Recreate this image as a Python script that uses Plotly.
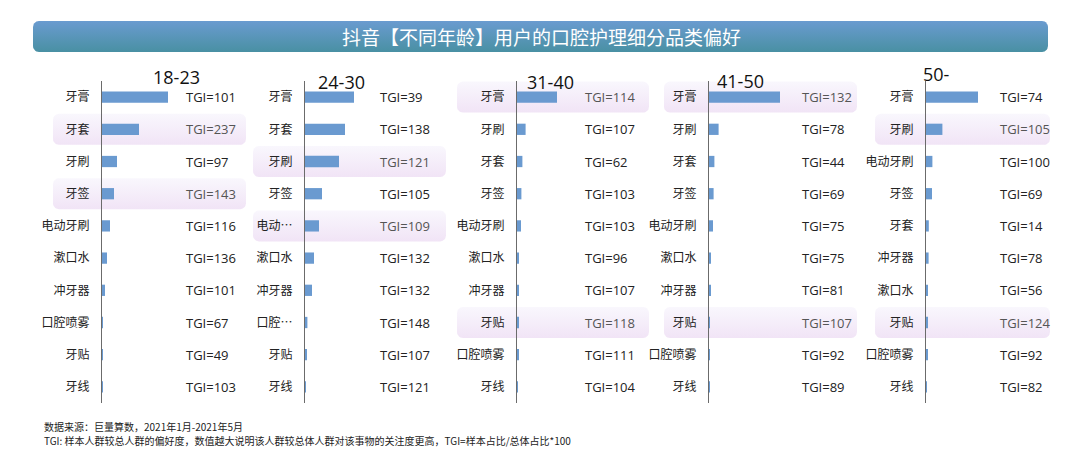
import numpy as np
import plotly.graph_objects as go

W, H = 1080, 471

title = "抖音【不同年龄】用户的口腔护理细分品类偏好"
age_groups = ["18-23", "24-30", "31-40", "41-50", "50-"]

cats_18_23 = ["牙膏", "牙套", "牙刷", "牙签", "电动牙刷", "漱口水", "冲牙器", "口腔喷雾", "牙贴", "牙线"]
share_18_23 = [33, 18.5, 7.5, 6, 4, 2.5, 1.5, 0.2, 0.15, 0.1]
tgi_18_23 = [101, 237, 97, 143, 116, 136, 101, 67, 49, 103]
hl_18_23 = [1, 3]

cats_24_30 = ["牙膏", "牙套", "牙刷", "牙签", "电动牙刷", "漱口水", "冲牙器", "口腔喷雾", "牙贴", "牙线"]
labels_24_30 = ["牙膏", "牙套", "牙刷", "牙签", "电动…", "漱口水", "冲牙器", "口腔…", "牙贴", "牙线"]
share_24_30 = [24.5, 20, 17, 8.5, 7, 4.5, 3.5, 1.2, 0.8, 0.5]
tgi_24_30 = [39, 138, 121, 105, 109, 132, 132, 148, 107, 121]
hl_24_30 = [2, 4]

cats_31_40 = ["牙膏", "牙刷", "牙套", "牙签", "电动牙刷", "漱口水", "冲牙器", "牙贴", "口腔喷雾", "牙线"]
share_31_40 = [20, 4.3, 2.7, 2.2, 2, 0.9, 0.9, 0.7, 0.6, 0.5]
tgi_31_40 = [114, 107, 62, 103, 103, 96, 107, 118, 111, 104]
hl_31_40 = [0, 7]

cats_41_50 = ["牙膏", "牙刷", "牙套", "牙签", "电动牙刷", "漱口水", "冲牙器", "牙贴", "口腔喷雾", "牙线"]
share_41_50 = [35.5, 4.8, 2.7, 2.3, 2, 0.7, 0.7, 0.15, 0.1, 0.05]
tgi_41_50 = [132, 78, 44, 69, 75, 75, 81, 107, 92, 89]
hl_41_50 = [0, 7]

cats_50 = ["牙膏", "牙刷", "电动牙刷", "牙签", "牙套", "冲牙器", "漱口水", "牙贴", "口腔喷雾", "牙线"]
share_50 = [26, 8.2, 3.2, 3, 1.4, 1.3, 1, 0.7, 0.6, 0.2]
tgi_50 = [74, 105, 100, 69, 14, 78, 56, 124, 92, 82]
hl_50 = [1, 7]

source_note = "数据来源：巨量算数，2021年1月-2021年5月"
tgi_note = "TGI: 样本人群较总人群的偏好度，数值越大说明该人群较总体人群对该事物的关注度更高，TGI=样本占比/总体占比*100"

panels = [
    (cats_18_23, cats_18_23, share_18_23, tgi_18_23, hl_18_23),
    (cats_24_30, labels_24_30, share_24_30, tgi_24_30, hl_24_30),
    (cats_31_40, cats_31_40, share_31_40, tgi_31_40, hl_31_40),
    (cats_41_50, cats_41_50, share_41_50, tgi_41_50, hl_41_50),
    (cats_50, cats_50, share_50, tgi_50, hl_50),
]

# layout in pixels
axis_px = [102, 305, 517, 709, 926]
tgi_px = [184, 378, 583, 800, 998]
hl_px = [(53, 246), (253, 446), (457, 649), (664, 857), (875, 1050)]
head_px = [(176, 77), (341, 82), (550, 82), (740, 81), (936, 74)]
top_px, pitch = 81, 32.2
bot_px = top_px + pitch * 10

FONT = "Noto Sans CJK SC"
BAR = "#6A9AD0"


def rounded_rect(x0, y0, x1, y1, r, n=8):
    xs, ys = [], []
    corners = [(x1 - r, y0 + r, -90), (x1 - r, y1 - r, 0), (x0 + r, y1 - r, 90), (x0 + r, y0 + r, 180)]
    for cx, cy, a in corners:
        t = np.radians(np.linspace(a, a + 90, n))
        xs += list(cx + r * np.cos(t))
        ys += list(cy + r * np.sin(t))
    return xs + xs[:1], ys + ys[:1]


fig = go.Figure()


def add_box(x0, y0, x1, y1, r, top, bottom):
    xs, ys = rounded_rect(x0, y0, x1, y1, r)
    fig.add_trace(go.Scatter(
        x=xs, y=ys, mode="lines", fill="toself",
        fillgradient=dict(type="vertical", start=y0, stop=y1,
                          colorscale=[[0, top], [1, bottom]]),
        line=dict(width=0), hoverinfo="skip", showlegend=False,
        xaxis="x", yaxis="y",
    ))


# title banner
add_box(33, 21, 1048, 52, 6, "#6A9BD0", "#4990A3")

# highlighted rows
for k, (cats, labels, share, tgi, hl) in enumerate(panels):
    for i in hl:
        cy = top_px + pitch * (i + 0.5)
        add_box(hl_px[k][0], cy - 15.5, hl_px[k][1], cy + 15.5, 6, "#F9F7FD", "#F1E4F6")

annotations = []
layout_axes = {}
for k, (cats, labels, share, tgi, hl) in enumerate(panels):
    n = k + 2
    fig.add_trace(go.Bar(
        y=cats, x=share, orientation="h", width=0.35,
        marker=dict(color=BAR, line=dict(width=0)),
        xaxis=f"x{n}", yaxis=f"y{n}", hoverinfo="skip", showlegend=False,
    ))
    layout_axes[f"xaxis{n}"] = dict(
        domain=[axis_px[k] / W, (axis_px[k] + 150) / W], range=[0, 75],
        visible=False, anchor=f"y{n}", fixedrange=True,
    )
    layout_axes[f"yaxis{n}"] = dict(
        domain=[1 - bot_px / H, 1 - top_px / H], anchor=f"x{n}",
        type="category", categoryorder="array", categoryarray=cats,
        tickvals=cats, ticktext=labels, autorange="reversed",
        showline=True, linecolor="#6b6b6b", linewidth=1.3,
        showgrid=False, zeroline=False, ticks="", ticklabelstandoff=9,
        tickfont=dict(family=FONT, size=12, color="#222"), fixedrange=True,
    )
    for i, (c, t) in enumerate(zip(cats, tgi)):
        annotations.append(dict(
            x=tgi_px[k] / W, xref="paper", y=c, yref=f"y{n}",
            text=f"TGI={t}", showarrow=False, xanchor="left", yanchor="middle",
            font=dict(family="Open Sans", size=13, color="#555" if i in hl else "#222"),
        ))
    annotations.append(dict(
        x=head_px[k][0] / W, y=1 - head_px[k][1] / H, xref="paper", yref="paper",
        text=age_groups[k], showarrow=False,
        xanchor="center", yanchor="middle",
        font=dict(family="Open Sans", size=18, color="#111"),
    ))

annotations.append(dict(
    x=541 / W, y=1 - 37 / H, xref="paper", yref="paper", text=title,
    showarrow=False, xanchor="center", yanchor="middle",
    font=dict(family=FONT, size=19, color="white"),
))
annotations.append(dict(
    x=42 / W, y=1 - 426 / H, xref="paper", yref="paper", text=source_note,
    showarrow=False, xanchor="left", yanchor="middle",
    font=dict(family=FONT, size=10, color="#222"),
))
annotations.append(dict(
    x=42 / W, y=1 - 440 / H, xref="paper", yref="paper", text=tgi_note,
    showarrow=False, xanchor="left", yanchor="middle",
    font=dict(family=FONT, size=10, color="#222"),
))

fig.update_layout(
    width=W, height=H, margin=dict(l=0, r=0, t=0, b=0),
    paper_bgcolor="white", plot_bgcolor="rgba(0,0,0,0)",
    showlegend=False,
    xaxis=dict(domain=[0, 1], range=[0, W], visible=False, fixedrange=True),
    yaxis=dict(domain=[0, 1], range=[H, 0], visible=False, fixedrange=True),
    annotations=annotations,
    **layout_axes,
)

fig.write_html("out.html", config={"displayModeBar": False},
               post_script="document.body.style.margin='0';")
